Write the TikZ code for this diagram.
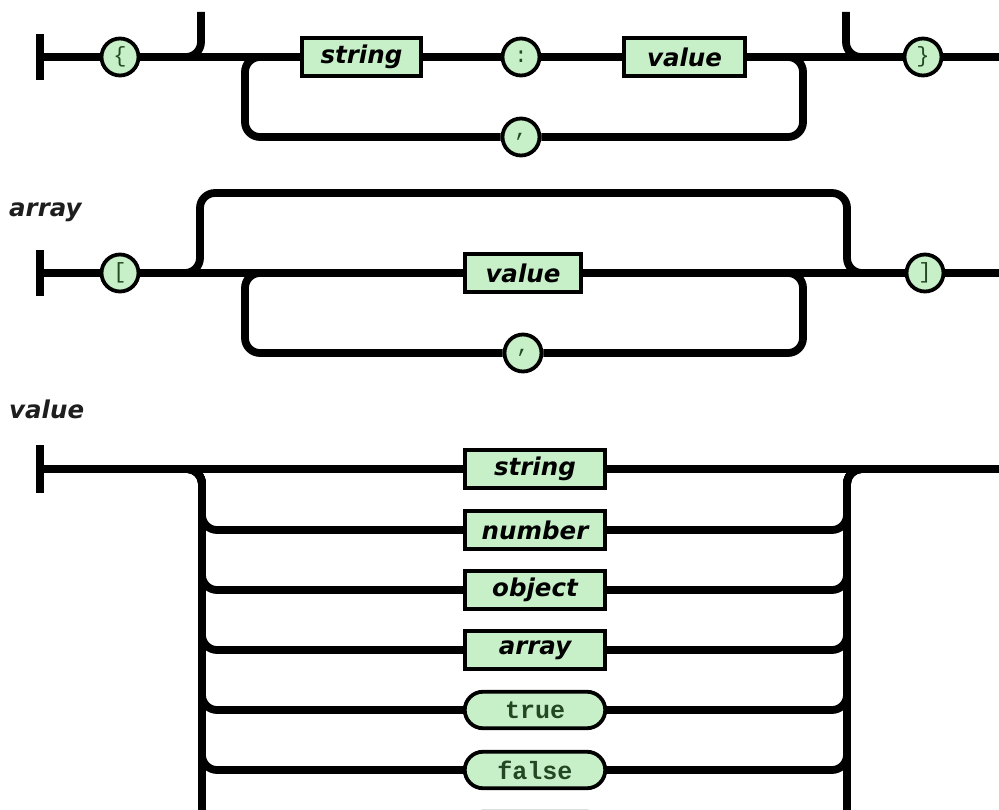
\documentclass[tikz,border=0pt]{standalone}
\usepackage{fontspec}
\setmonofont{Liberation Mono}
\newfontfamily\railfont{DejaVu Sans}
\usetikzlibrary{shapes.misc}
\definecolor{railgreen}{RGB}{200,240,200}
\definecolor{glyph}{RGB}{35,70,35}
\definecolor{lbltext}{RGB}{30,30,30}
\tikzset{
  rail/.style={line width=7.8pt, rounded corners=15pt, draw=black},
  termc/.style={circle, draw=black, line width=3.8pt, fill=railgreen, minimum size=37pt, inner sep=0pt,
    font=\ttfamily\fontsize{22}{22}\selectfont, text=glyph},
  ntbox/.style={rectangle, draw=black, line width=3.8pt, fill=railgreen, minimum height=37.5pt, inner sep=0pt,
    font=\railfont\bfseries\itshape\fontsize{24.5}{26}\selectfont, text=black},
  tbox/.style={rounded rectangle, draw=black, line width=3.8pt, fill=railgreen, minimum height=36.5pt,
    minimum width=140.5pt, inner sep=0pt, font=\ttfamily\bfseries\fontsize{25}{26}\selectfont, text=glyph},
  startbar/.style={fill=black, minimum width=8pt, minimum height=46pt, inner sep=0pt},
  lbl/.style={font=\railfont\bfseries\itshape\fontsize{24.5}{26}\selectfont, text=lbltext, inner sep=0pt, anchor=west}
}
\begin{document}
\begin{tikzpicture}[x=1pt,y=-1pt]
\useasboundingbox (0,0) rectangle (999,810);
\clip (0,0) rectangle (999,810);
\fill[white] (0,0) rectangle (999,810);

% ---------- object ----------
\node[startbar] (os) at (40,57) {};
\node[termc] (olb) at (120,57) {\{};
\node[ntbox, minimum width=119.5pt] (ostr) at (361.5,57) {string};
\node[termc] (ocol) at (521,57) {:};
\node[ntbox, minimum width=121.5pt] (oval) at (684.5,57) {value};
\node[termc] (ocom) at (521,137) {,};
\node[termc] (orb) at (923,57) {\}};
\coordinate (oend) at (999,57);
\coordinate (otl) at (201,12);
\coordinate (otr) at (846,12);

\draw[rail] (os.center) -- (olb);
\draw[rail] (olb) -- (ostr);
\draw[rail] (ostr) -- (ocol);
\draw[rail] (ocol) -- (oval);
\draw[rail] (oval) -- (orb);
\draw[rail] (orb) -- (oend);
\draw[rail] (olb) -| (otl);
\draw[rail] (otr) |- (orb);
\draw[rail] (ostr.west) -- (245,57) |- (ocom);
\draw[rail] (ocom) -| (803,57) -- (oval.east);

% ---------- array ----------
\node[lbl] (larr) at (9,212) {array};
\node[startbar] (as) at (40,273) {};
\node[termc] (alb) at (120,273) {[};
\node[ntbox, minimum width=116.5pt, minimum height=38.5pt] (aval) at (523,273) {value};
\node[termc] (acom) at (523,353) {,};
\node[termc] (arb) at (925,273) {]};
\coordinate (aend) at (999,273);

\draw[rail] (as.center) -- (alb);
\draw[rail] (alb) -- (aval);
\draw[rail] (aval) -- (arb);
\draw[rail] (arb) -- (aend);
\draw[rail] (alb) -| (200,193) -| (847,273) -- (arb);
\draw[rail] (aval.west) -- (245,273) |- (acom);
\draw[rail] (acom) -| (803,273) -- (aval.east);

% ---------- value ----------
\node[lbl] (lval) at (9,409) {value};
\node[startbar, minimum height=48pt] (vs) at (40,469) {};
\node[ntbox, minimum width=140.5pt] (vstr) at (535,469) {string};
\node[ntbox, minimum width=140.5pt] (vnum) at (535,530) {number};
\node[ntbox, minimum width=140.5pt] (vobj) at (535,590) {object};
\node[ntbox, minimum width=140.5pt] (varr) at (535,650) {array};
\node[tbox] (vtrue) at (535,710) {true};
\node[tbox] (vfalse) at (535,770) {false};
\node[tbox] (vnull) at (535,830) {};
\coordinate (vend) at (999,469);

\draw[rail] (vs.center) -- (vstr);
\draw[rail] (vstr) -- (vend);
\foreach \n in {vnum,vobj,varr,vtrue,vfalse,vnull} {
  \draw[rail] (vs.center) -- (202,469) |- (\n.west);
  \draw[rail] (\n.east) -| (847,469) -- (vend);
}
\end{tikzpicture}
\end{document}
